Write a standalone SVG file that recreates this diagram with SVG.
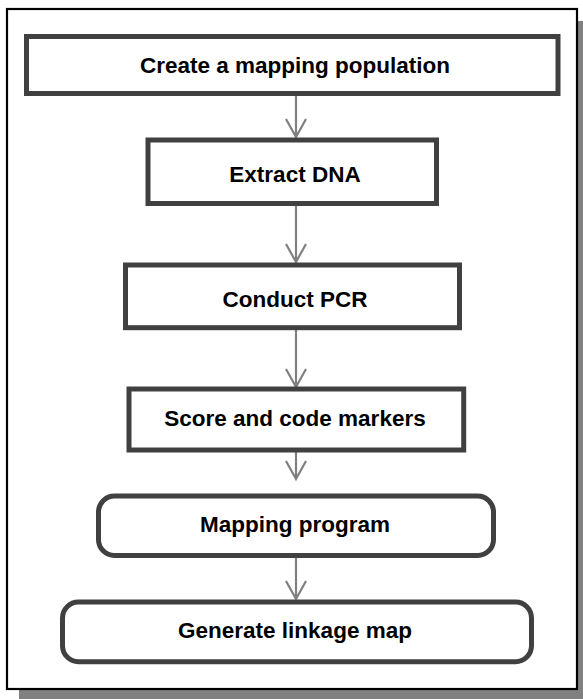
<svg xmlns="http://www.w3.org/2000/svg" width="583" height="699" viewBox="0 0 583 699">
<style>
.box{fill:#fff;stroke:#404040;stroke-width:5}
.lbl{font-family:"Liberation Sans",Arial,sans-serif;font-weight:bold;font-size:22.5px;fill:#000;text-anchor:middle}
.conn{stroke:#808080;stroke-width:2.2;fill:none}
</style>
<rect x="19" y="21" width="580" height="690" fill="#808080"/>
<rect id="frame" x="7" y="9" width="570" height="680" fill="#fff" stroke="#000" stroke-width="2.2"/>
<g id="connectors">
<path class="conn" d="M296 96V137M286 119L296 137L306 119"/>
<path class="conn" d="M296 206V262M286 244L296 262L306 244"/>
<path class="conn" d="M296 330V387M286 369L296 387L306 369"/>
<path class="conn" d="M296 452V479M286 461L296 479L306 461"/>
<path class="conn" d="M296 558V599M286 581L296 599L306 581"/>
</g>
<g id="n1"><rect class="box" x="26.5" y="36.5" width="531.5" height="57"/><text class="lbl" x="295" y="73">Create a mapping population</text></g>
<g id="n2"><rect class="box" x="148" y="140" width="288.5" height="63.5"/><text class="lbl" x="295" y="181.5">Extract DNA</text></g>
<g id="n3"><rect class="box" x="125.5" y="265" width="334" height="62.7"/><text class="lbl" x="295" y="306.5">Conduct PCR</text></g>
<g id="n4"><rect class="box" x="129" y="389" width="334.7" height="61"/><text class="lbl" x="295" y="426">Score and code markers</text></g>
<g id="n5"><rect class="box" x="98.5" y="496" width="395" height="59.5" rx="16"/><text class="lbl" x="295" y="532.3">Mapping program</text></g>
<g id="n6"><rect class="box" x="62.5" y="602" width="469" height="59.7" rx="16"/><text class="lbl" x="295" y="637.7">Generate linkage map</text></g>
</svg>
